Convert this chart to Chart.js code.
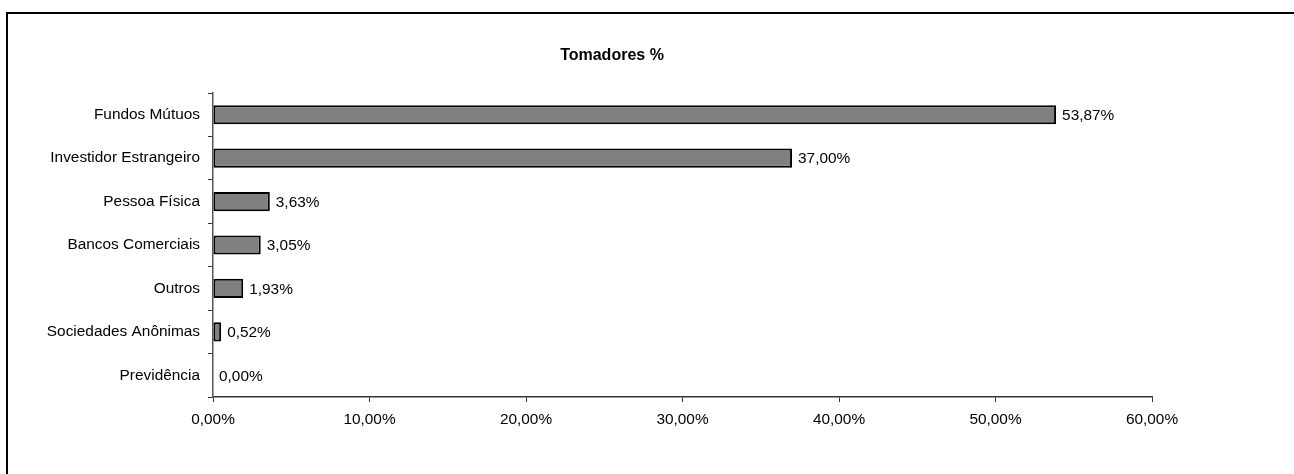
<!DOCTYPE html>
<html>
<head>
<meta charset="utf-8">
<script src="https://cdn.jsdelivr.net/npm/chart.js@4/dist/chart.umd.min.js"></script>
<style>
    body { margin: 0; background: #fff; }
    #wrap { position: relative; width: 1294px; height: 474px; }
    #frame {
        position: absolute; left: 6px; top: 12px; right: 0; bottom: 0;
        border-left: 2px solid #000; border-top: 2px solid #000;
        pointer-events: none;
    }
</style>
</head>
<body>
<div id="wrap">
    <canvas id="tomadoresChart" width="1294" height="474"></canvas>
    <div id="frame"></div>
</div>
<script>
// dados do gráfico
const categorias = ['Fundos Mútuos', 'Investidor Estrangeiro', 'Pessoa Física', 'Bancos Comerciais', 'Outros', 'Sociedades Anônimas', 'Previdência'];
const valores = [53.87, 37.00, 3.63, 3.05, 1.93, 0.52, 0.00];
const tituloGrafico = 'Tomadores %';

const fonte = "'Liberation Sans', Arial, sans-serif";

function formatPct(v) {
    return v.toFixed(2).replace('.', ',') + '%';
}

// rótulos de valor ao lado das barras
const rotulosPlugin = {
    id: 'rotulos',
    afterDatasetsDraw(chart) {
        const ctx = chart.ctx;
        const meta = chart.getDatasetMeta(0);
        ctx.save();
        ctx.font = '15.4px ' + fonte;
        ctx.fillStyle = '#000';
        ctx.textAlign = 'left';
        ctx.textBaseline = 'middle';
        meta.data.forEach((bar, i) => {
            ctx.fillText(formatPct(valores[i]), bar.x + 6, bar.y + 1);
        });
        ctx.restore();
    }
};

// título (no Excel fica um pouco à esquerda do centro do gráfico)
const tituloPlugin = {
    id: 'tituloExcel',
    afterDraw(chart) {
        const ctx = chart.ctx;
        ctx.save();
        ctx.font = 'bold 16px ' + fonte;
        ctx.fillStyle = '#000';
        ctx.textAlign = 'center';
        ctx.textBaseline = 'middle';
        ctx.fillText(tituloGrafico, 612, 56);
        ctx.restore();
    }
};

const ctx = document.getElementById('tomadoresChart').getContext('2d');
const tomadoresChart = new Chart(ctx, {
    type: 'bar',
    data: {
        labels: categorias,
        datasets: [{
            data: valores,
            backgroundColor: '#808080',
            borderColor: '#000',
            borderWidth: 2,
            borderSkipped: false,
            barPercentage: 0.44,
            categoryPercentage: 1
        }]
    },
    options: {
        indexAxis: 'y',
        responsive: false,
        animation: false,
        layout: {
            padding: { left: 0, right: 142, top: 93, bottom: 0 }
        },
        plugins: {
            legend: { display: false },
            tooltip: { enabled: false },
            title: { display: false }
        },
        scales: {
            x: {
                min: 0,
                max: 60,
                ticks: {
                    stepSize: 10,
                    color: '#000',
                    padding: 9,
                    font: { family: fonte, size: 15.4 },
                    callback: (v) => formatPct(v)
                },
                grid: {
                    drawOnChartArea: false,
                    drawTicks: true,
                    tickLength: 5,
                    color: '#333'
                },
                border: { display: true, color: '#333', width: 1.5 },
                afterFit(scale) { scale.height = 77; }
            },
            y: {
                ticks: {
                    color: '#000',
                    padding: 8,
                    font: { family: fonte, size: 15.4 }
                },
                grid: {
                    drawOnChartArea: false,
                    drawTicks: true,
                    tickLength: 5,
                    color: '#333'
                },
                border: { display: true, color: '#555', width: 1.5 },
                afterFit(scale) { scale.width = 213; }
            }
        }
    },
    plugins: [rotulosPlugin, tituloPlugin]
});
</script>
</body>
</html>
